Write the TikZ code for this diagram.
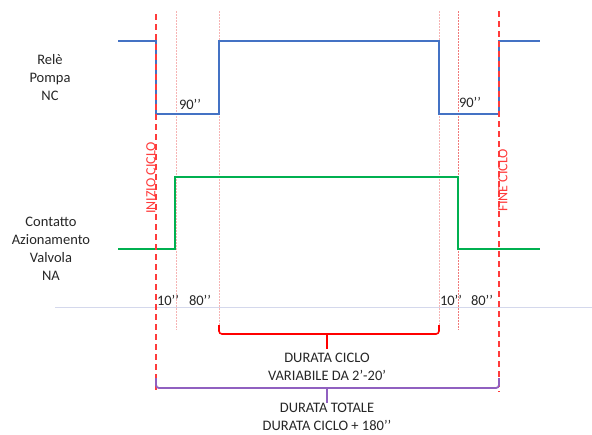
\documentclass[tikz,border=0pt]{standalone}
\usepackage{fontspec}
\setmainfont{Carlito}
\definecolor{sigblue}{HTML}{4472C4}
\definecolor{siggreen}{HTML}{00B050}
\definecolor{cyred}{HTML}{FF3B3B}
\definecolor{faintred}{HTML}{F6B4B4}
\definecolor{midred}{HTML}{F07A7A}
\definecolor{brpurple}{HTML}{9060C0}
\definecolor{grayline}{HTML}{D4D8EC}
\definecolor{txt}{HTML}{262626}
\begin{document}
\begin{tikzpicture}[x=1pt,y=-1pt,
  lbl/.style={font=\fontsize{14.5}{18}\selectfont, text=txt, align=center, inner sep=0pt},
  vlbl/.style={font=\fontsize{14}{18}\selectfont, text=cyred, inner sep=0pt, rotate=90},
  sigb/.style={draw=sigblue, line width=2pt},
  sigg/.style={draw=siggreen, line width=2pt},
  mainmark/.style={draw=cyred, line width=1.3pt, dash pattern=on 6pt off 4pt},
  faintmark/.style={draw=faintred, line width=0.9pt, dash pattern=on 1.5pt off 1.5pt},
  midmark/.style={draw=midred, line width=0.9pt, dash pattern=on 1.5pt off 1.5pt},
  brred/.style={draw=red, line width=1.6pt, rounded corners=3pt},
  brpur/.style={draw=brpurple, line width=1.8pt, rounded corners=3pt}]
\useasboundingbox (0,0) rectangle (592,434);

% separator line
\coordinate (gl) at (55,307);
\coordinate (gr) at (592,307);
\draw[grayline, line width=1pt] (gl) -- (gr);

% vertical time markers
\coordinate (s1t) at (156,14);  \coordinate (s1b) at (156,392);
\coordinate (e1t) at (499,11);  \coordinate (e1b) at (499,392);
\coordinate (a1t) at (176,11);  \coordinate (a1b) at (176,330);
\coordinate (b1t) at (219,11);  \coordinate (b1b) at (219,325);
\coordinate (c1t) at (439,11);  \coordinate (c1b) at (439,325);
\coordinate (d1t) at (458,11);  \coordinate (d1b) at (458,330);
\draw[faintmark] (a1t) -- (a1b);
\draw[faintmark] (b1t) -- (b1b);
\draw[faintmark] (c1t) -- (c1b);
\draw[midmark] (d1t) -- (d1b);

% blue signal (pump relay)
\draw[sigb] (118,41) -- (156,41) -- (156,114) -- (219,114) -- (219,41)
  -- (439,41) -- (439,114) -- (499,114) -- (499,41) -- (540,41);
% green signal (valve contact)
\draw[sigg] (118,249) -- (175,249) -- (175,177) -- (458,177) -- (458,249) -- (540,249);

\draw[mainmark] (s1t) -- (s1b);
\draw[mainmark] (e1t) -- (e1b);

% labels
\node[lbl] (rele) at (50,78) {Relè\\Pompa\\NC};
\node[lbl] (cont) at (51,249) {Contatto\\Azionamento\\Valvola\\NA};
\node[vlbl] (inizio) at (151,178) {INIZIO CICLO};
\node[vlbl] (fine) at (503,180) {FINE CICLO};
\node[lbl] (n90a) at (190,104) {90’’};
\node[lbl] (n90b) at (470,102) {90’’};
\node[lbl] (t10a) at (168,300) {10’’};
\node[lbl] (t80a) at (200,300) {80’’};
\node[lbl] (t10b) at (451,300) {10’’};
\node[lbl] (t80b) at (482,300) {80’’};

% brackets
\coordinate (rbl) at (219,325); \coordinate (rbr) at (439,325);
\coordinate (rbm) at (327,334); \coordinate (rbt) at (327,349);
\draw[brred] (rbl) -- (219,334) -- (439,334) -- (rbr);
\draw[red, line width=1.4pt] (rbm) -- (rbt);
\node[lbl] (durc) at (327,367) {DURATA CICLO\\VARIABILE DA 2’-20’};

\coordinate (pbl) at (156,378); \coordinate (pbr) at (499,378);
\coordinate (pbm) at (327,388); \coordinate (pbt) at (327,403);
\draw[brpur] (pbl) -- (156,388) -- (499,388) -- (pbr);
\draw[brpurple, line width=1.4pt] (pbm) -- (pbt);
\node[lbl] (durt) at (327,417) {DURATA TOTALE\\DURATA CICLO + 180’’};
\end{tikzpicture}
\end{document}
